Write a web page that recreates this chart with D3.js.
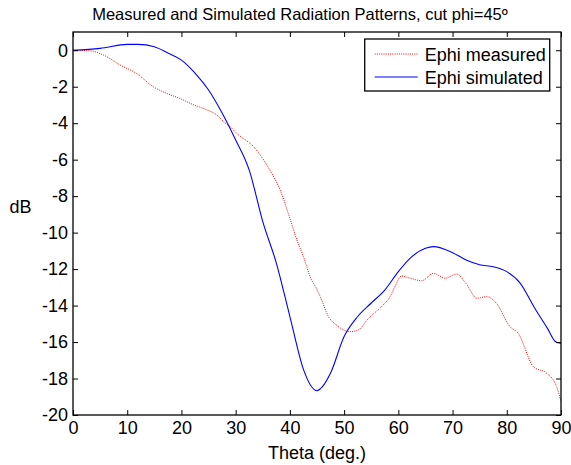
<!DOCTYPE html>
<html>
<head>
<meta charset="utf-8">
<script src="https://cdn.jsdelivr.net/npm/d3@7"></script>
<style>
	body { margin: 0; background: #fff; }
	text { font-family: 'Liberation Sans', Arial, sans-serif; fill: #000; }
</style>
</head>
<body>
<div id="chart"></div>
<script>
// Datos (theta en grados, nivel en dB)
const thetaMeasured = [0, 3.1, 5.6, 8.7, 11.7, 14.8, 17.3, 19.7, 21.6, 24, 26.5, 28, 29, 30.2, 33.3, 36.3, 38.2, 39.7, 41.3, 42.5, 44, 44.6, 45.6, 47.1, 48.6, 51.1, 52.6, 54.5, 57.2, 58.5, 59.3, 60.6, 62.2, 64.3, 66.5, 68.6, 70.8, 72.5, 74.5, 76.3, 78.1, 80.6, 82.1, 84.9, 87.4, 89.2, 90];
const dbMeasured = [0, -0.03, -0.26, -0.81, -1.27, -2.0, -2.37, -2.64, -2.91, -3.19, -3.55, -3.97, -4.19, -4.56, -5.29, -6.57, -7.66, -8.94, -10.41, -11.32, -12.6, -12.9, -13.51, -14.6, -15.07, -15.43, -15.34, -14.7, -13.97, -13.5, -13.0, -12.38, -12.5, -12.64, -12.23, -12.5, -12.28, -12.8, -13.6, -13.51, -13.88, -15.16, -15.52, -17.35, -17.72, -18.45, -19.27];

const thetaSimulated = [0, 5, 10, 12, 15, 17.5, 20, 22.5, 25, 27.5, 30, 32.5, 35, 37.5, 40, 42.5, 44, 45, 46, 47.5, 50, 52.5, 55, 57.5, 60, 62.5, 65, 66.5, 70, 72.5, 75, 77.5, 80, 82.5, 85, 87.5, 89, 90];
const dbSimulated = [0, 0.1, 0.32, 0.32, 0.19, -0.15, -0.54, -1.25, -2.18, -3.44, -4.92, -6.57, -9.4, -11.67, -14.6, -17.5, -18.45, -18.67, -18.45, -17.7, -15.7, -14.6, -13.86, -13.15, -12.14, -11.32, -10.86, -10.77, -11.1, -11.5, -11.76, -11.87, -12.14, -12.78, -14.06, -15.25, -15.98, -16.07];

const xTicks = [0, 10, 20, 30, 40, 50, 60, 70, 80, 90];
const yTicks = [0, -2, -4, -6, -8, -10, -12, -14, -16, -18, -20];
const seriesNames = ['Ephi measured', 'Ephi simulated'];

const margin = { top: 32, right: 10, bottom: 50, left: 73 };
const width = 571 - margin.left - margin.right;
const height = 465 - margin.top - margin.bottom;

const root = d3.select('#chart').append('svg')
	.attr('width', 571)
	.attr('height', 465);

const svg = root.append('g')
	.attr('transform', `translate(${margin.left},${margin.top})`);

const x = d3.scaleLinear().domain([0, 90]).range([0, width]);
const y = d3.scaleLinear().domain([-20, 1]).range([height, 0]);

const line = d3.line()
	.x((d) => x(d[0]))
	.y((d) => y(d[1]))
	.curve(d3.curveMonotoneX);

// Curvas
svg.append('path')
	.datum(d3.zip(thetaMeasured, dbMeasured))
	.attr('fill', 'none')
	.attr('stroke', '#ff0000')
	.attr('stroke-width', 1)
	.attr('stroke-dasharray', '1,1.2')
	.attr('d', line);

svg.append('path')
	.datum(d3.zip(thetaSimulated, dbSimulated))
	.attr('fill', 'none')
	.attr('stroke', '#0000ff')
	.attr('stroke-width', 1.1)
	.attr('d', line);

// Ejes con marcas hacia dentro (estilo MATLAB), guion simple en los negativos
const fontSize = 18;
const fmt = (d) => String(d);
const ax = svg.append('g')
	.attr('transform', `translate(0,${height})`)
	.call(d3.axisBottom(x).tickValues(xTicks).tickFormat(fmt).tickSizeInner(-5).tickSizeOuter(0).tickPadding(6));
const ay = svg.append('g')
	.call(d3.axisLeft(y).tickValues(yTicks).tickFormat(fmt).tickSizeInner(-5).tickSizeOuter(0).tickPadding(5));
const axTop = svg.append('g')
	.call(d3.axisTop(x).tickValues(xTicks).tickSizeInner(-5).tickSizeOuter(0).tickFormat(''));
const ayRight = svg.append('g')
	.attr('transform', `translate(${width},0)`)
	.call(d3.axisRight(y).tickValues(yTicks).tickSizeInner(-5).tickSizeOuter(0).tickFormat(''));

[ax, ay, axTop, ayRight].forEach((g) => {
	g.select('.domain').remove();
	g.selectAll('line').attr('stroke', '#000');
	g.selectAll('text')
		.style('font-family', "'Liberation Sans', Arial, sans-serif")
		.style('font-size', fontSize + 'px')
		.attr('fill', '#000');
});

// Caja
svg.append('rect')
	.attr('x', 0)
	.attr('y', 0)
	.attr('width', width)
	.attr('height', height)
	.attr('fill', 'none')
	.attr('stroke', '#000')
	.attr('stroke-width', 1.3);

// Leyenda
const legend = svg.append('g').attr('transform', `translate(${x(53.8)},7)`);
legend.append('rect')
	.attr('width', 185)
	.attr('height', 52)
	.attr('fill', '#fff')
	.attr('stroke', '#000')
	.attr('stroke-width', 1.3);
seriesNames.forEach((name, i) => {
	const ly = 15 + i * 23;
	legend.append('line')
		.attr('x1', 10).attr('x2', 53)
		.attr('y1', ly).attr('y2', ly)
		.attr('stroke', i === 0 ? '#ff0000' : '#0000ff')
		.attr('stroke-width', 1)
		.attr('stroke-dasharray', i === 0 ? '1,1.2' : null);
	legend.append('text')
		.attr('x', 60)
		.attr('y', ly + 6.5)
		.style('font-size', fontSize + 'px')
		.text(name);
});

// Títulos
root.append('text')
	.attr('x', 300)
	.attr('y', 20)
	.attr('text-anchor', 'middle')
	.style('font-size', '16.5px')
	.text('Measured and Simulated Radiation Patterns, cut phi=45º');

root.append('text')
	.attr('x', margin.left + width / 2)
	.attr('y', 459)
	.attr('text-anchor', 'middle')
	.style('font-size', fontSize + 'px')
	.text('Theta (deg.)');

root.append('text')
	.attr('x', 20.5)
	.attr('y', 213)
	.attr('text-anchor', 'middle')
	.style('font-size', fontSize + 'px')
	.text('dB');
</script>
</body>
</html>
